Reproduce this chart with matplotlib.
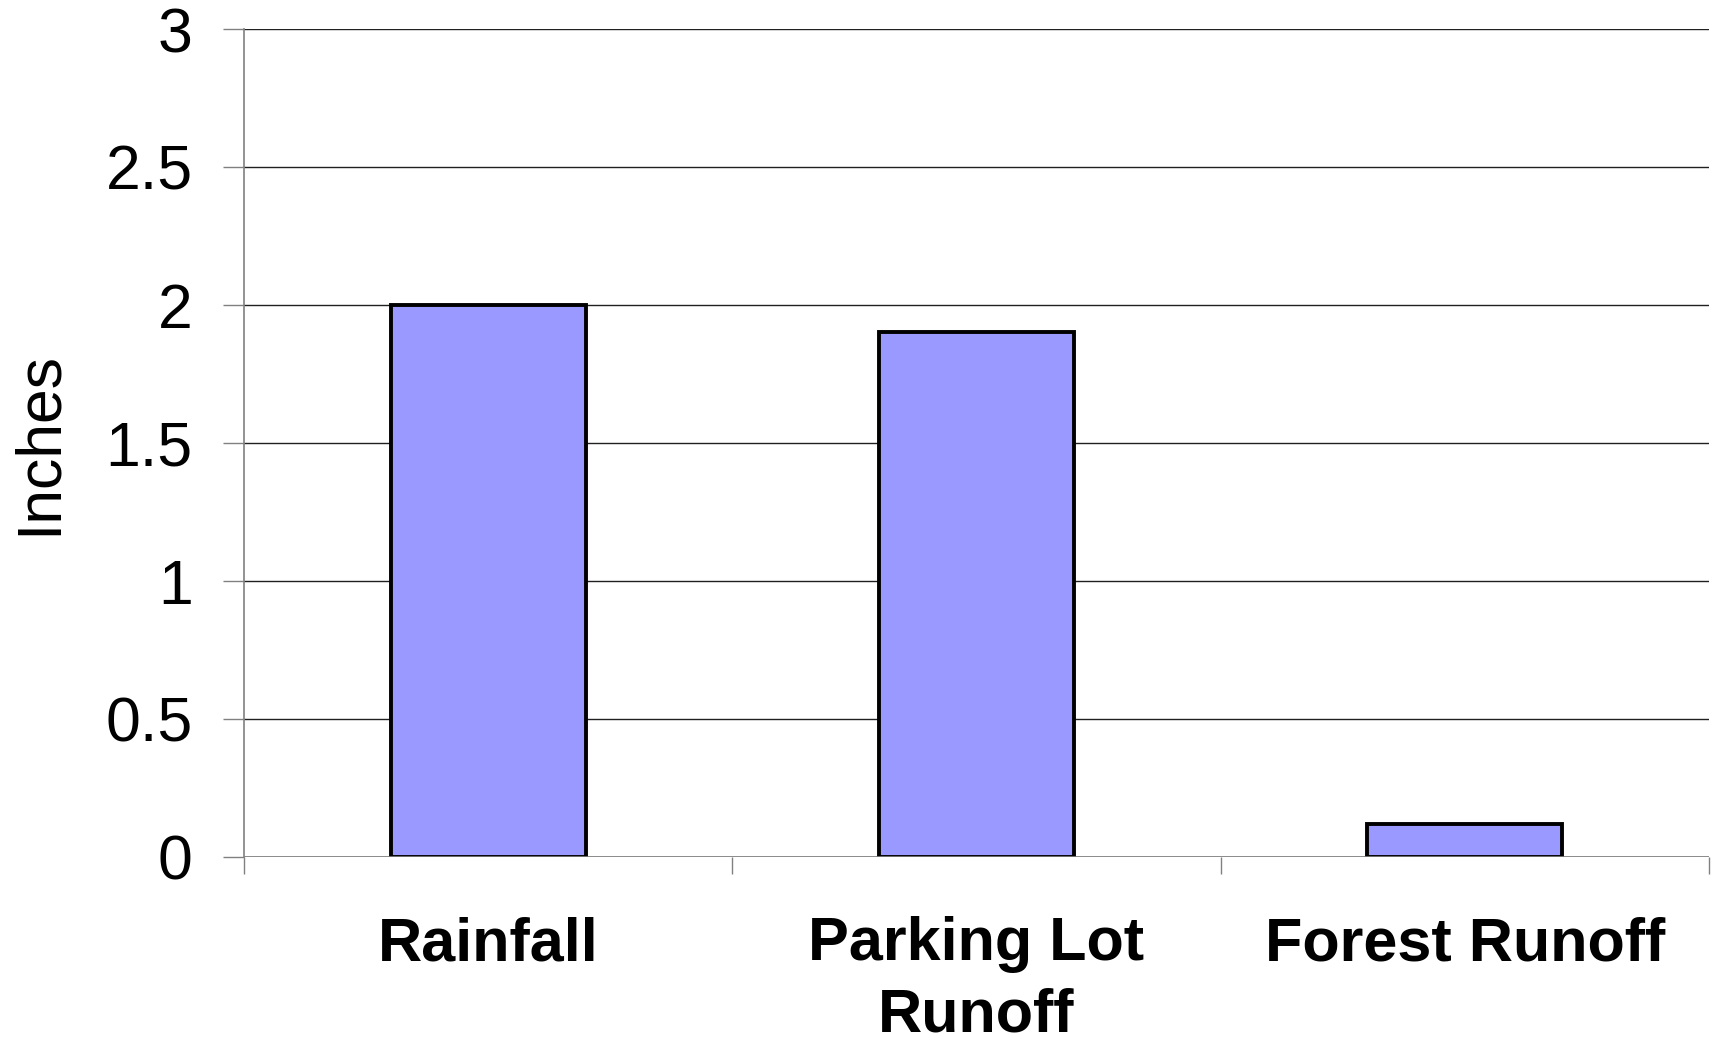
import matplotlib
matplotlib.use("Agg")
import matplotlib.pyplot as plt

# data
categories = ["Rainfall", "Parking Lot\nRunoff", "Forest Runoff"]
inches = [2.0, 1.9, 0.12]
y_ticks = [0, 0.5, 1, 1.5, 2, 2.5, 3]
y_tick_labels = ["0", "0.5", "1", "1.5", "2", "2.5", "3"]

plt.rcParams["font.family"] = ["Liberation Sans", "DejaVu Sans"]

fig = plt.figure(figsize=(17.2, 10.47), dpi=100)
ax = fig.add_axes([0.1419, 0.1818, 0.9936 - 0.1419, 0.9723 - 0.1818])

x = list(range(len(categories)))
ax.bar(x, inches, width=0.40, color="#9999FF", edgecolor="black",
       linewidth=2.8, zorder=3)

ax.set_xlim(-0.5, len(categories) - 0.5)
ax.set_ylim(0, 3)

# gridlines
ax.set_yticks(y_ticks)
ax.set_yticklabels(y_tick_labels, fontsize=45)
ax.yaxis.grid(True, color="#202020", linewidth=1.0, zorder=0)

# category boundary ticks (major), labels on minor ticks
ax.set_xticks([i - 0.5 for i in range(len(categories) + 1)])
ax.set_xticklabels([])
ax.set_xticks(x, minor=True)
ax.set_xticklabels(categories, minor=True, fontsize=44, fontweight="bold",
                   linespacing=1.33, va="top")
ax.tick_params(axis="x", which="major", length=12, width=1, color="#808080",
               direction="out")
ax.tick_params(axis="x", which="minor", length=0, pad=43)
ax.tick_params(axis="y", length=15, width=1, color="#808080", pad=22)

for side in ["top", "right", "bottom"]:
    ax.spines[side].set_visible(False)
ax.spines["left"].set_color("#808080")
ax.spines["left"].set_linewidth(1.2)
ax.axhline(0, color="#808080", linewidth=1.2, zorder=4)

ax.set_ylabel("Inches", fontsize=45)
ax.yaxis.set_label_coords(-0.120, 0.5)

fig.savefig("out.png", dpi=100, facecolor="white")
